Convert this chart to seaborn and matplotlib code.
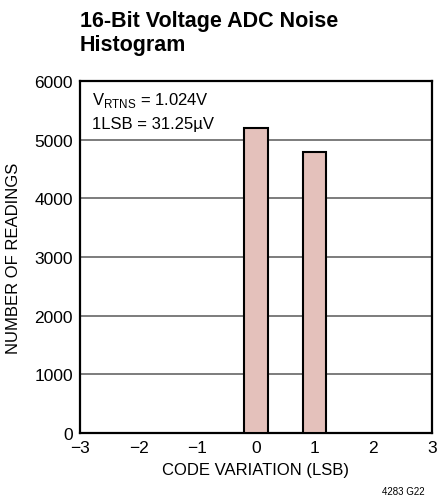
import matplotlib
matplotlib.use("Agg")
import matplotlib.pyplot as plt
import seaborn as sns
import pandas as pd

# data
codes = [0, 1]
readings = [5200, 4790]
xticks = [-3, -2, -1, 0, 1, 2, 3]
yticks = [0, 1000, 2000, 3000, 4000, 5000, 6000]

sns.set_style("white")
plt.rcParams['font.family'] = ['Liberation Sans', 'DejaVu Sans']
plt.rcParams['mathtext.fontset'] = 'custom'
plt.rcParams['mathtext.rm'] = 'Liberation Sans'
plt.rcParams['text.color'] = 'black'
plt.rcParams['axes.labelcolor'] = 'black'
plt.rcParams['xtick.color'] = 'black'
plt.rcParams['ytick.color'] = 'black'

df = pd.DataFrame({'code': codes, 'n': readings})

fig = plt.figure(figsize=(4.37, 5.02), dpi=100)
ax = fig.add_axes([80/437, 1 - 434/502, 352/437, 352/502])

sns.barplot(data=df, x='code', y='n', native_scale=True, width=0.4,
            color='#e4c1bb', edgecolor='black', linewidth=1.5, saturation=1, ax=ax, zorder=3)

ax.set_xlim(-3, 3)
ax.set_ylim(0, 6000)
ax.set_xticks(xticks)
ax.set_xticklabels(['\u22123', '\u22122', '\u22121', '0', '1', '2', '3'])
ax.set_yticks(yticks)
ax.tick_params(labelsize=12.5, length=0, pad=5)
for y in yticks[1:-1]:
    ax.axhline(y, color='#666666', lw=1.2, zorder=1)
for s in ax.spines.values():
    s.set_linewidth(1.6)
    s.set_color('black')

ax.set_xlabel('CODE VARIATION (LSB)', fontsize=12, labelpad=5)
ax.set_ylabel('NUMBER OF READINGS', fontsize=12, labelpad=10)

ax.text(0.035, 0.975, 'V$_{\\mathregular{RTNS}}$ = 1.024V\n1LSB = 31.25\u00b5V',
        transform=ax.transAxes, ha='left', va='top', fontsize=12, linespacing=1.6)

fig.text(80/437, 1 - 11/502, '16-Bit Voltage ADC Noise\nHistogram', ha='left', va='top',
         fontsize=15.5, fontweight='bold', linespacing=1.2)
fig.text(425/437, 1 - 497/502, '4283 G22', ha='right', va='bottom', fontsize=7)

fig.savefig('out.png', dpi=100)
